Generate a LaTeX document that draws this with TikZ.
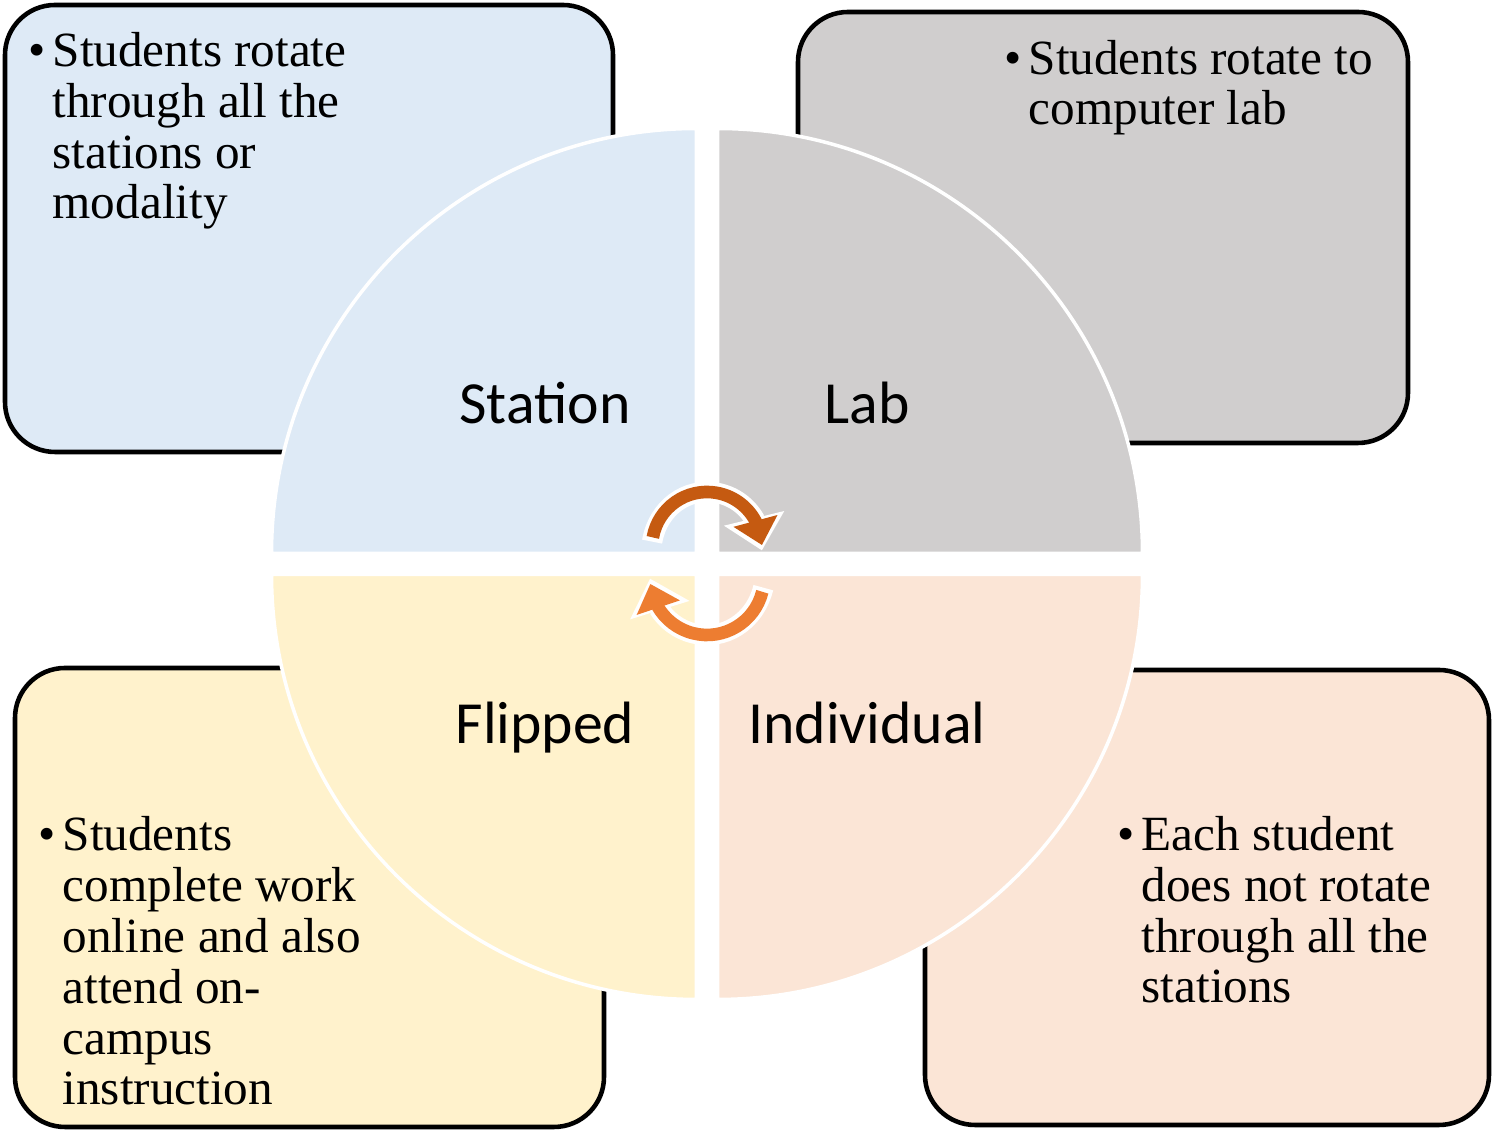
\documentclass[tikz,border=0pt]{standalone}
\usepackage{fontspec}
\setmainfont{Liberation Serif}
\newfontfamily\labfont{Carlito}
\usetikzlibrary{arrows.meta,
                bending}
\definecolor{stationblue}{HTML}{DEEAF6}
\definecolor{labgray}{HTML}{D0CECE}
\definecolor{flippedyellow}{HTML}{FFF2CC}
\definecolor{indivpeach}{HTML}{FBE5D6}
\definecolor{arrowdark}{HTML}{C55A11}
\definecolor{arrowlight}{HTML}{ED7D31}
\tikzset{
  infobox/.style={draw=black, line width=1.3pt, rounded corners=0.5cm},
  quarter/.style={draw=white, line width=1pt},
  bullettext/.style={anchor=base west, align=left, inner sep=0pt,
                     font=\fontsize{14}{14.5}\selectfont},
  quartlabel/.style={anchor=base, inner sep=0pt,
                     font=\labfont\fontsize{17}{20}\selectfont},
  rimline/.style={white, line width=5.8pt, shorten <=-1.2pt, shorten >=-1.5pt,
                  -{Triangle[length=0.33cm,width=0.6cm,flex]}},
  turnline/.style={line width=3.6pt, -{Triangle[length=0.25cm,width=0.44cm,flex]}}
}
\begin{document}
\begin{tikzpicture}
 \useasboundingbox (0,0) rectangle (14.94,11.32);
 % boxes behind the circle
 \draw[infobox, fill=stationblue]   (0.05,11.27) rectangle (6.13,6.80);
 \draw[infobox, fill=labgray]       (7.98,11.20) rectangle (14.08,6.89);
 \draw[infobox, fill=flippedyellow] (0.15,4.64)  rectangle (6.04,0.05);
 \draw[infobox, fill=indivpeach]    (9.25,4.62)  rectangle (14.89,0.07);
 % the four quarters
 \coordinate (stc) at (6.965,5.785);
 \coordinate (lbc) at (7.175,5.785);
 \coordinate (flc) at (6.965,5.575);
 \coordinate (inc) at (7.175,5.575);
 \filldraw[quarter, fill=stationblue]   (stc) -- ++(-4.25,0) arc[start angle=180,end angle=90,radius=4.25] -- cycle;
 \filldraw[quarter, fill=labgray]       (lbc) -- ++(0,4.25)  arc[start angle=90,end angle=0,radius=4.25] -- cycle;
 \filldraw[quarter, fill=flippedyellow] (flc) -- ++(0,-4.25) arc[start angle=270,end angle=180,radius=4.25] -- cycle;
 \filldraw[quarter, fill=indivpeach]    (inc) -- ++(4.25,0)  arc[start angle=0,end angle=-90,radius=4.25] -- cycle;
 \node[quartlabel] (station)    at (5.45,7.08) {Station};
 \node[quartlabel] (lab)        at (8.67,7.08) {Lab};
 \node[quartlabel] (flipped)    at (5.45,3.88) {Flipped};
 \node[quartlabel] (individual) at (8.67,3.88) {Individual};
 % turning arrows
 \coordinate (topc) at (7.07,5.85);
 \coordinate (botc) at (7.07,5.54);
 \draw[rimline]             ([shift={(170:0.55)}]topc) arc[start angle=170,end angle=2,radius=0.55];
 \draw[turnline, arrowdark] ([shift={(170:0.55)}]topc) arc[start angle=170,end angle=2,radius=0.55];
 \draw[rimline]              ([shift={(-14:0.57)}]botc) arc[start angle=-14,end angle=-174,radius=0.57];
 \draw[turnline, arrowlight] ([shift={(-14:0.57)}]botc) arc[start angle=-14,end angle=-174,radius=0.57];
 % bullet texts (anchored at the last line)
 \node[bullettext] (stationtext) at (0.52,9.13)
   {\llap{\textbullet\hspace{2pt}}Students rotate\\through all the\\stations or\\modality};
 \node[bullettext] (labtext) at (10.28,10.07)
   {\llap{\textbullet\hspace{2pt}}Students rotate to\\computer lab};
 \node[bullettext] (flippedtext) at (0.62,0.27)
   {\llap{\textbullet\hspace{2pt}}Students\\complete work\\online and also\\attend on-\\campus\\instruction};
 \node[bullettext] (individualtext) at (11.41,1.29)
   {\llap{\textbullet\hspace{2pt}}Each student\\does not rotate\\through all the\\stations};
\end{tikzpicture}
\end{document}
